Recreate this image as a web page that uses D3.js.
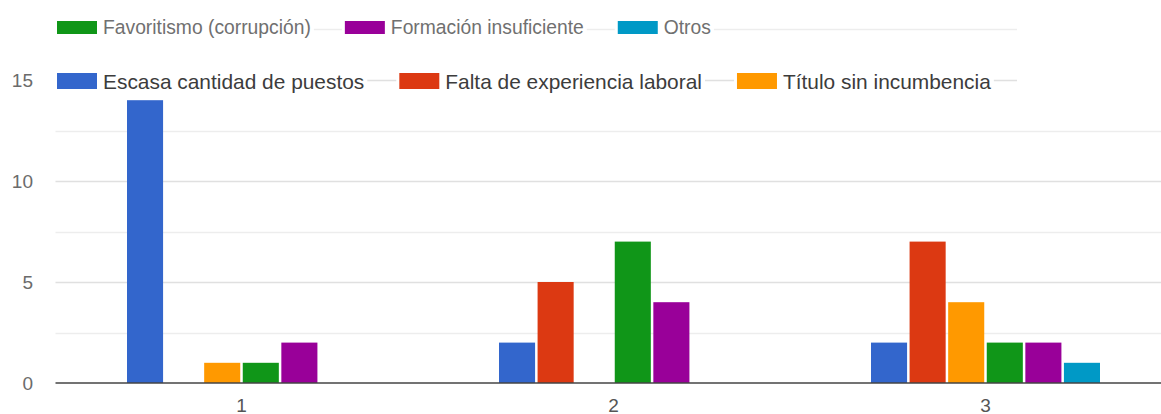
<!DOCTYPE html>
<html>
<head>
<meta charset="utf-8">
<script src="https://cdn.jsdelivr.net/npm/d3@7"></script>
<style>
  html, body { margin: 0; padding: 0; background: #fff; }
  svg { display: block; font-family: "Liberation Sans", Arial, sans-serif; }
</style>
</head>
<body>
<svg id="chart" width="1161" height="414"></svg>
<script>
// ---- data ----
const categories = ["1", "2", "3"];
const seriesNames = [
  "Escasa cantidad de puestos",
  "Falta de experiencia laboral",
  "Título sin incumbencia",
  "Favoritismo (corrupción)",
  "Formación insuficiente",
  "Otros"
];
const escasa      = [14, 2, 2];
const falta       = [0, 5, 7];
const titulo      = [1, 0, 4];
const favoritismo = [1, 7, 2];
const formacion   = [2, 4, 2];
const otros       = [0, 0, 1];
const seriesValues = [escasa, falta, titulo, favoritismo, formacion, otros];
const colors = ["#3366cc", "#dc3912", "#ff9900", "#109618", "#990099", "#0099c6"];
const yTicks = [0, 5, 10, 15];
const yMinorTicks = [2.5, 7.5, 12.5, 17.5];
const legendRow1 = ["Favoritismo (corrupción)", "Formación insuficiente", "Otros"];
const legendRow2 = ["Escasa cantidad de puestos", "Falta de experiencia laboral", "Título sin incumbencia"];

// ---- layout ----
const svg = d3.select("#chart");
const W = 1161;
const plotLeft = 55.5, plotRight = 1171.5;
const legendEnd = 1017;

const y = d3.scaleLinear().domain([0, 15]).range([383, 80]);
const x0 = d3.scaleBand().domain(categories).range([plotLeft, plotRight]).padding(0);
const groupSpan = 229;
const x1 = d3.scaleBand().domain(seriesNames).range([0, groupSpan]).paddingInner(0.065).paddingOuter(0);

// gridlines
const grid = svg.append("g");
grid.selectAll("line.minor").data(yMinorTicks).join("line")
  .attr("class", "minor")
  .attr("x1", plotLeft).attr("x2", d => d > 15 ? legendEnd : W)
  .attr("y1", d => Math.round(y(d)) + 0.5).attr("y2", d => Math.round(y(d)) + 0.5)
  .attr("stroke", "#ededed").attr("stroke-width", 1.5);
grid.selectAll("line.major").data(yTicks.filter(d => d > 0)).join("line")
  .attr("class", "major")
  .attr("x1", plotLeft).attr("x2", d => d >= 15 ? legendEnd : W)
  .attr("y1", d => Math.round(y(d)) + 0.5).attr("y2", d => Math.round(y(d)) + 0.5)
  .attr("stroke", "#e0e0e0").attr("stroke-width", 1.5);

// bars
const rows = categories.map((c, i) => ({ cat: c, vals: seriesNames.map((s, j) => ({ s, j, v: seriesValues[j][i] })) }));
const groups = svg.append("g").selectAll("g").data(rows).join("g")
  .attr("transform", d => `translate(${x0(d.cat) + x0.bandwidth() / 2 - groupSpan / 2},0)`);
groups.selectAll("rect").data(d => d.vals.filter(e => e.v > 0)).join("rect")
  .attr("x", e => x1(e.s))
  .attr("width", x1.bandwidth())
  .attr("y", e => y(e.v))
  .attr("height", e => y(0) - y(e.v))
  .attr("fill", e => colors[e.j]);

// baseline
svg.append("line")
  .attr("x1", plotLeft).attr("x2", W)
  .attr("y1", y(0)).attr("y2", y(0))
  .attr("stroke", "#444").attr("stroke-width", 1.6);

// y axis labels
const yAxis = d3.axisLeft(y).tickValues(yTicks).tickSize(0).tickPadding(0).tickFormat(d3.format("d"));
const yg = svg.append("g").attr("transform", "translate(33,0)").call(yAxis);
yg.select(".domain").remove();
yg.selectAll("text").attr("font-size", 19).attr("fill", "#6b6b6b")
  .attr("font-family", "'Liberation Sans', Arial, sans-serif");

// x axis labels
const xAxis = d3.axisBottom(x0).tickSize(0).tickPadding(0);
const xg = svg.append("g").attr("transform", "translate(0,398)").call(xAxis);
xg.select(".domain").remove();
xg.selectAll("text").attr("font-size", 19).attr("fill", "#555")
  .attr("font-family", "'Liberation Sans', Arial, sans-serif");

// legend
function drawLegend(names, cy, fontSize, swH, textColor, gap) {
  const g = svg.append("g");
  let xPos = 57;
  names.forEach((name, i) => {
    const j = seriesNames.indexOf(name);
    const item = g.append("g");
    const bg = item.append("rect").attr("fill", "#fff");
    item.append("rect")
      .attr("x", xPos).attr("y", cy - swH / 2)
      .attr("width", 40).attr("height", swH)
      .attr("fill", colors[j]);
    const t = item.append("text")
      .attr("x", xPos + 46).attr("y", cy)
      .attr("dy", "0.36em")
      .attr("font-size", fontSize).attr("fill", textColor)
      .text(name);
    const tw = t.node().getComputedTextLength();
    bg.attr("x", xPos - 3).attr("y", cy - 13).attr("width", 46 + tw + 6).attr("height", 26);
    xPos = xPos + 46 + tw + gap;
  });
}
drawLegend(legendRow1, 27.5, 19.3, 13, "#707070", 34);
drawLegend(legendRow2, 81, 20.9, 16, "#3c3c3c", 35);
</script>
</body>
</html>
